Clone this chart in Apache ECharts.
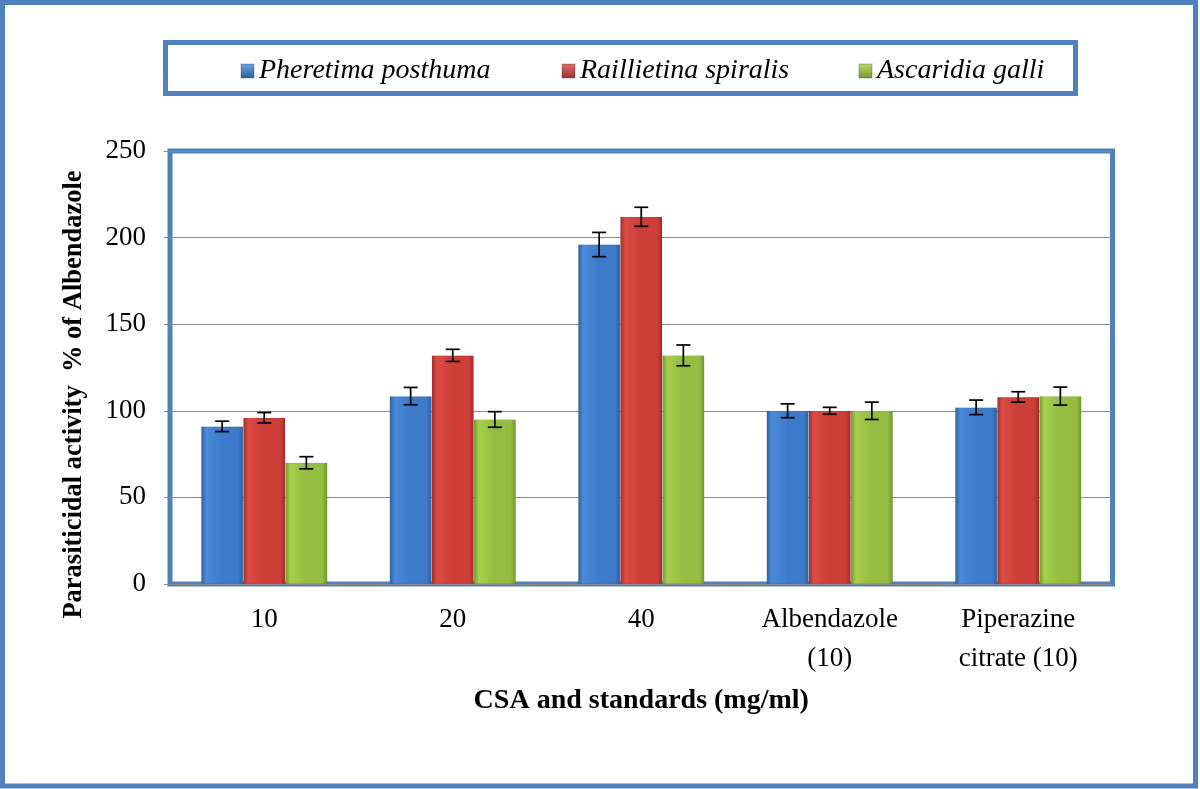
<!DOCTYPE html>
<html>
<head>
<meta charset="utf-8">
<script src="https://cdn.jsdelivr.net/npm/echarts@6/dist/echarts.min.js"></script>
<style>
html,body{margin:0;padding:0;background:#fff;}
#chart{width:1200px;height:789px;}
</style>
</head>
<body>
<div id="chart"></div>
<script>
const categories = ['10', '20', '40', 'Albendazole\n(10)', 'Piperazine\ncitrate (10)'];
const seriesNames = ['Pheretima posthuma', 'Raillietina spiralis', 'Ascaridia galli'];
const pheretima = [91, 108.5, 196, 100, 102];
const raillietina = [96, 132, 212, 100, 108];
const ascaridia = [70, 95, 132, 100, 108.5];
const pheretimaErr = [3, 5, 7, 4, 4.2];
const raillietinaErr = [3, 3.5, 5.5, 2, 3];
const ascaridiaErr = [3.5, 4.5, 6, 5, 5.2];
const yTicks = {min: 0, max: 250, interval: 50};

const values = [pheretima, raillietina, ascaridia];
const errors = [pheretimaErr, raillietinaErr, ascaridiaErr];
const barGapRatio = 0.33;

function grad(dark, light, base) {
  return new echarts.graphic.LinearGradient(0, 0, 1, 0, [
    {offset: 0, color: dark},
    {offset: 0.12, color: light},
    {offset: 0.5, color: base},
    {offset: 0.88, color: base},
    {offset: 1, color: dark}
  ]);
}
const fills = [
  grad('#2c5e9e', '#4a8ad8', '#3d7acb'),
  grad('#9e2d2a', '#dc4b46', '#cd3e39'),
  grad('#71962e', '#a6cf4c', '#94bd42')
];
const iconColors = [
  new echarts.graphic.LinearGradient(0, 0, 0, 1, [{offset: 0, color: '#6ea3e6'}, {offset: 1, color: '#2c5e9e'}]),
  new echarts.graphic.LinearGradient(0, 0, 0, 1, [{offset: 0, color: '#e07470'}, {offset: 1, color: '#9e2d2a'}]),
  new echarts.graphic.LinearGradient(0, 0, 0, 1, [{offset: 0, color: '#b9dc6a'}, {offset: 1, color: '#71962e'}])
];

const serif = 'Liberation Serif, Times New Roman, serif';

const chart = echarts.init(document.getElementById('chart'));

const barSeries = values.map((v, i) => ({
  name: seriesNames[i],
  type: 'bar',
  data: v,
  barGap: '0%',
  barCategoryGap: (barGapRatio * 100) + '%',
  itemStyle: {color: fills[i], borderColor: 'rgba(0,0,0,0.12)', borderWidth: 0.6},
  z: 2
}));

const errSeries = values.map((v, s) => ({
  type: 'custom',
  name: seriesNames[s] + ' err',
  z: 5,
  silent: true,
  data: v.map((val, i) => [i, val, errors[s][i]]),
  encode: {x: 0, y: 1},
  renderItem: function (params, api) {
    const idx = api.value(0), val = api.value(1), e = api.value(2);
    const c = api.coord([idx, val]);
    const bandW = api.size([1, 0])[0];
    const barW = bandW * (1 - barGapRatio) / 3;
    const x = c[0] + (s - 1) * barW;
    const hi = api.coord([idx, val + e])[1];
    const lo = api.coord([idx, val - e])[1];
    const cap = 7;
    const st = {stroke: '#000', lineWidth: 1.7};
    return {
      type: 'group',
      children: [
        {type: 'line', shape: {x1: x, y1: hi, x2: x, y2: lo}, style: st},
        {type: 'line', shape: {x1: x - cap, y1: hi, x2: x + cap, y2: hi}, style: st},
        {type: 'line', shape: {x1: x - cap, y1: lo, x2: x + cap, y2: lo}, style: st}
      ]
    };
  }
}));

const legendLefts = [240, 561, 858];
const legends = seriesNames.map((n, i) => ({
  data: [{name: n, itemStyle: {color: iconColors[i]}}],
  left: legendLefts[i],
  top: 57,
  padding: 0,
  icon: 'rect',
  itemWidth: 13,
  itemHeight: 14,
  itemGap: 0,
  selectedMode: false,
  textStyle: {fontFamily: serif, fontStyle: 'italic', fontSize: 28, color: '#000'}
}));

chart.setOption({
  animation: false,
  backgroundColor: '#fff',
  legend: legends,
  graphic: [
    {type: 'rect', shape: {x: 2.5, y: 2.5, width: 1193, height: 783.5},
     style: {fill: 'none', stroke: '#4f81bd', lineWidth: 5}, z: 100},
    {type: 'rect', shape: {x: 165.5, y: 42.5, width: 910, height: 51},
     style: {fill: 'none', stroke: '#4f81bd', lineWidth: 5}, z: 100}
  ],
  grid: {
    left: 170, right: 87.5, top: 151, bottom: 205,
    show: true, borderColor: '#4f81bd', borderWidth: 5, backgroundColor: 'transparent'
  },
  xAxis: {
    type: 'category',
    data: categories,
    axisLine: {show: false},
    axisTick: {show: false},
    axisLabel: {fontFamily: serif, fontSize: 27, color: '#000', margin: 16, lineHeight: 39, interval: 0},
    name: 'CSA and standards (mg/ml)',
    nameLocation: 'middle',
    nameGap: 103,
    nameTextStyle: {fontFamily: serif, fontWeight: 'bold', fontSize: 28, color: '#000'}
  },
  yAxis: {
    type: 'value',
    min: yTicks.min, max: yTicks.max, interval: yTicks.interval,
    axisLine: {show: false},
    axisTick: {show: true, length: 6, lineStyle: {color: '#868686'}},
    axisLabel: {fontFamily: serif, fontSize: 27, color: '#000', margin: 24},
    splitLine: {lineStyle: {color: '#8a8a8a', width: 1.2}},
    name: 'Parasiticidal activity  % of Albendazole',
    nameLocation: 'middle',
    nameGap: 82,
    nameRotate: 90,
    nameTextStyle: {fontFamily: serif, fontWeight: 'bold', fontSize: 26.5, color: '#000', padding: [0, 54, 0, 0]}
  },
  series: barSeries.concat(errSeries)
});
</script>
</body>
</html>
